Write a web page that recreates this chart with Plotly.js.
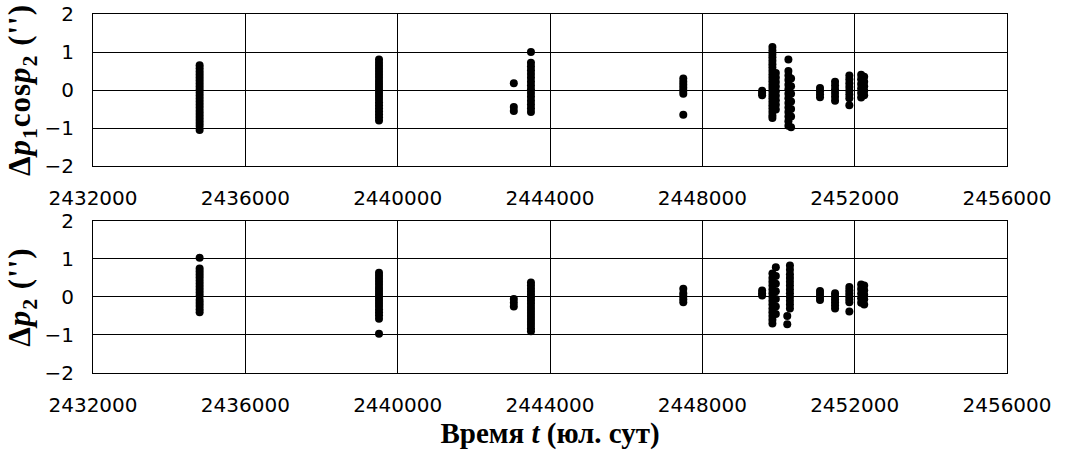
<!DOCTYPE html>
<html>
<head>
<meta charset="utf-8">
<script src="https://cdn.plot.ly/plotly-3.0.1.min.js"></script>
<style>
html,body{margin:0;padding:0;background:#fff;}
#chart{width:1067px;height:455px;}
g.g-ytitle text, g.g-y2title text{letter-spacing:1px;}
</style>
</head>
<body>
<div id="chart"></div>
<script>
const epochsTop = [2434800, 2439510, 2443050, 2443500, 2447500, 2449570, 2449840, 2449930, 2450260, 2450330, 2451090, 2451485, 2451860, 2452170, 2452250];
const residTop = [
  [0.65,0.57,0.49,0.41,0.33,0.25,0.17,0.09,0.01,-0.07,-0.15,-0.23,-0.31,-0.39,-0.47,-0.55,-0.63,-0.71,-0.79,-0.87,-0.95,-1.05],
  [0.8,0.72,0.64,0.56,0.48,0.4,0.32,0.24,0.16,0.08,0,-0.08,-0.16,-0.24,-0.32,-0.4,-0.48,-0.56,-0.64,-0.72,-0.8],
  [0.18,-0.45,-0.55],
  [1.0,0.72,0.62,0.52,0.42,0.32,0.22,0.12,0.02,-0.08,-0.18,-0.28,-0.38,-0.48,-0.58],
  [0.3,0.22,0.14,0.06,-0.02,-0.1,-0.65],
  [-0.02,-0.08,-0.14],
  [1.13,1.04,0.95,0.86,0.77,0.68,0.59,0.5,0.41,0.32,0.23,0.14,0.05,-0.04,-0.13,-0.22,-0.31,-0.4,-0.49,-0.58,-0.67,-0.74],
  [0.45,0.33,0.21,0.09,-0.03,-0.15,-0.27,-0.39,-0.51],
  [0.8,0.5,0.38,0.26,0.14,0.02,-0.1,-0.22,-0.34,-0.46,-0.58,-0.7,-0.82,-0.94],
  [0.3,0.1,-0.1,-0.3,-0.5,-0.7,-0.98],
  [0.05,-0.03,-0.11,-0.19],
  [0.22,0.12,0.02,-0.08,-0.18,-0.28],
  [0.38,0.28,0.18,0.08,-0.02,-0.12,-0.22,-0.4],
  [0.4,0.28,0.16,0.04,-0.08,-0.2],
  [0.35,0.22,0.1,-0.02,-0.14]
];
const epochsBot = [2434800, 2439510, 2443050, 2443500, 2447500, 2449570, 2449840, 2449930, 2450300, 2450230, 2451090, 2451485, 2451860, 2452170, 2452250];
const residBot = [
  [1.03,0.75,0.67,0.59,0.51,0.43,0.35,0.27,0.19,0.11,0.03,-0.08,-0.16,-0.24,-0.32,-0.4],
  [0.64,0.56,0.48,0.4,0.32,0.24,0.16,0.08,0,-0.08,-0.16,-0.24,-0.32,-0.4,-0.48,-0.57,-0.97],
  [-0.05,-0.15,-0.25],
  [0.38,0.3,0.22,0.14,0.06,-0.02,-0.1,-0.18,-0.26,-0.34,-0.42,-0.5,-0.58,-0.66,-0.74,-0.82,-0.9],
  [0.22,0.1,0.02,-0.06,-0.14],
  [0.17,0.1,0.04],
  [0.62,0.5,0.4,0.3,0.2,0.1,0,-0.1,-0.2,-0.3,-0.4,-0.5,-0.6,-0.7],
  [0.78,0.55,0.35,0.15,-0.05,-0.25,-0.45],
  [0.83,0.72,0.6,0.5,0.4,0.3,0.2,0.1,0,-0.1,-0.2,-0.3],
  [-0.5,-0.72],
  [0.16,0.08,0,-0.08],
  [0.1,0.02,-0.06,-0.14,-0.22,-0.3],
  [0.26,0.18,0.1,0.02,-0.06,-0.14,-0.38],
  [0.33,0.21,0.09,-0.03,-0.15],
  [0.3,0.18,0.06,-0.06,-0.2]
];
const xTickVals = [2432000, 2436000, 2440000, 2444000, 2448000, 2452000, 2456000];
const yTickVals = [-2, -1, 0, 1, 2];
const xTitle = '<b>Время <i>t</i> (юл. сут)</b>';
const yTitleTop = '<b>Δ<i>p</i><sub>1</sub>cos<i>p</i><sub>2</sub> (\'\')</b>';
const yTitleBot = '<b>Δ<i>p</i><sub>2</sub> (\'\')</b>';

function flatten(epochs, resid) {
  const xs = [], ys = [];
  epochs.forEach((e, i) => resid[i].forEach(v => { xs.push(e); ys.push(v); }));
  return {xs, ys};
}
const topPanel = flatten(epochsTop, residTop);
const botPanel = flatten(epochsBot, residBot);

const marker = {color: '#000', size: 8};
const traces = [
  {x: topPanel.xs, y: topPanel.ys, xaxis: 'x2', yaxis: 'y2', type: 'scatter', mode: 'markers', marker: marker, hoverinfo: 'skip'},
  {x: botPanel.xs, y: botPanel.ys, xaxis: 'x', yaxis: 'y', type: 'scatter', mode: 'markers', marker: marker, hoverinfo: 'skip'}
];

const tickFont = {family: 'DejaVu Sans, Arial, sans-serif', size: 20, color: '#000'};
const xTitleFont = {family: 'Liberation Serif, Times New Roman, serif', size: 29, color: '#000'};
const yTitleFont = {family: 'Liberation Serif, Times New Roman, serif', size: 31, color: '#000'};

function xAxis(anchor, withTitle) {
  const a = {
    anchor: anchor, range: [2432000, 2456000], tickvals: xTickVals, tickformat: 'd',
    showgrid: true, gridcolor: '#000', gridwidth: 1, zeroline: false,
    showline: true, mirror: true, linecolor: '#000', linewidth: 1,
    ticks: '', ticklabelstandoff: 14, tickfont: tickFont, fixedrange: true
  };
  if (withTitle) a.title = {text: xTitle, font: xTitleFont, standoff: 2};
  return a;
}
function yAxis(domain, title) {
  return {
    domain: domain, range: [-2, 2], tickvals: yTickVals,
    showgrid: true, gridcolor: '#000', gridwidth: 1, zeroline: false,
    showline: true, mirror: true, linecolor: '#000', linewidth: 1,
    ticks: '', ticklabelstandoff: 14, tickfont: tickFont, fixedrange: true,
    title: {text: title, font: yTitleFont, standoff: 4}
  };
}

const layout = {
  width: 1067, height: 455,
  margin: {l: 93, r: 60, t: 14, b: 82},
  paper_bgcolor: '#fff', plot_bgcolor: '#fff',
  showlegend: false,
  xaxis: xAxis('y', true),
  yaxis: yAxis([0, 0.4234], yTitleBot),
  xaxis2: xAxis('y2', false),
  yaxis2: yAxis([0.5766, 1], yTitleTop)
};

Plotly.newPlot('chart', traces, layout, {staticPlot: true, displayModeBar: false});
</script>
</body>
</html>
